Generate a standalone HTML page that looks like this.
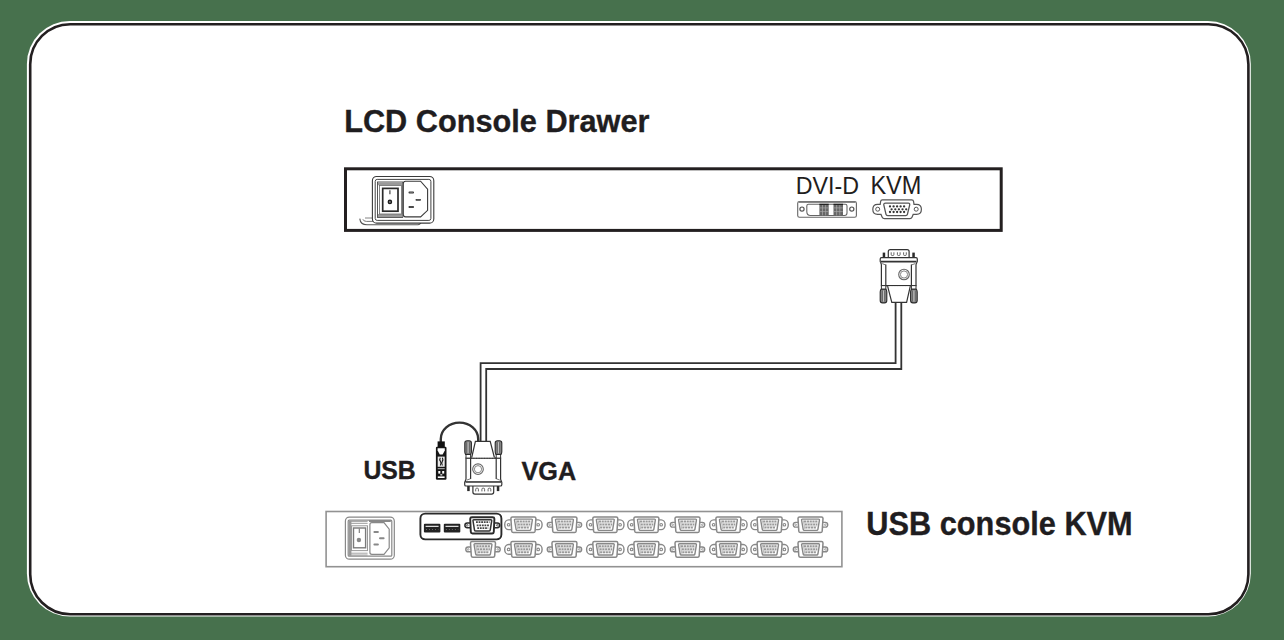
<!DOCTYPE html>
<html><head><meta charset="utf-8">
<style>
html,body{margin:0;padding:0;background:#47714d;width:1284px;height:640px;overflow:hidden}
svg{position:absolute;left:0;top:0;display:block}
text{font-family:"Liberation Sans",sans-serif;fill:#1f1d20}
.b{font-weight:bold;stroke:#1f1d20;stroke-width:0.35px}
</style></head><body>
<svg width="1284" height="640" viewBox="0 0 1284 640">
<defs>
<!-- VGA female port body (no lobes), centred at 0,0 -->
<g id="vbody">
  <path d="M-11 -7.85 H11 Q12.4 -7.85 12.5 -6.4 L11.7 6.4 Q11.5 7.85 10.1 7.85 H-10.1 Q-11.5 7.85 -11.7 6.4 L-12.5 -6.4 Q-12.4 -7.85 -11 -7.85 Z" fill="#fff" stroke="#888" stroke-width="1.5"/>
  <path d="M-8 -5.6 H8.1 Q9.1 -5.6 8.9 -4.5 L7.4 4.6 Q7.2 5.6 6.2 5.6 H-6.1 Q-7.1 5.6 -7.3 4.6 L-8.9 -4.5 Q-9.1 -5.6 -8 -5.6 Z" fill="#fff" stroke="#888" stroke-width="1.4"/>
  <path d="M-7.2 -4.4 L-5.7 4.4" stroke="#aaa" stroke-width="0.8"/>
  <path d="M-6.5 -3.2 H7.4 M-5.8 -0.2 H6.9 M-5.2 2.8 H6" stroke="#999" stroke-width="2" stroke-dasharray="2.2 0.6"/>
  <path d="M-6.5 -1.7 H7.2 M-5.6 1.3 H6.6" stroke="#c4c4c4" stroke-width="0.7"/>
</g>
<g id="vlobeA">
  <path d="M-12.3 -4.9 H-14.7 A4 4.9 0 0 0 -14.7 4.9 H-11.8 M12.3 -4.9 H14.7 A4 4.9 0 0 1 14.7 4.9 H11.8" fill="#fff" stroke="#888" stroke-width="1.4"/>
  <circle cx="-14.8" cy="0" r="1.3" fill="#fff" stroke="#888" stroke-width="1.1"/>
  <circle cx="14.8" cy="0" r="1.3" fill="#fff" stroke="#888" stroke-width="1.1"/>
</g>
<g id="vlobeB">
  <path d="M-12.3 -2.4 H-14.8 A2.4 2.4 0 0 0 -14.8 2.4 H-12 M12.3 -2.4 H14.8 A2.4 2.4 0 0 1 14.8 2.4 H12" fill="#fff" stroke="#888" stroke-width="1.4"/>
  <circle cx="-14.8" cy="0" r="0.8" fill="#fff" stroke="#999" stroke-width="0.9"/>
  <circle cx="14.8" cy="0" r="0.8" fill="#fff" stroke="#999" stroke-width="0.9"/>
</g>
<g id="vportA"><use href="#vlobeA"/><use href="#vbody"/></g>
<g id="vportB"><use href="#vlobeB"/><use href="#vbody"/></g>
<!-- VGA plug (cable end), drawn as the upper one -->
<g id="plug">
  <!-- D shell -->
  <path d="M888.3 257.7 V251.6 Q888.3 249.6 890.3 249.6 H907.1 Q909.1 249.6 909.1 251.6 V257.7" fill="#fff" stroke="#333" stroke-width="1.2"/>
  <path d="M891.2 252.3 v2.2 q0 1 1 1 h0.7 q1 0 1 -1 v-2.2 M897.4 252.3 v2.2 q0 1 1 1 h0.7 q1 0 1 -1 v-2.2 M903.6 252.3 v2.2 q0 1 1 1 h0.7 q1 0 1 -1 v-2.2" fill="none" stroke="#555" stroke-width="0.9"/>
  <!-- screws -->
  <rect x="882.7" y="252.6" width="2.5" height="5.1" fill="#2a2a2a"/>
  <rect x="912.3" y="252.6" width="2.5" height="5.1" fill="#2a2a2a"/>
  <!-- flange -->
  <path d="M881.5 257.7 H916 Q917.3 257.7 917.3 259 V261.5 Q917.3 262.6 916 262.6 H881.5 Q880.2 262.6 880.2 261.5 V259 Q880.2 257.7 881.5 257.7 Z" fill="#fff" stroke="#333" stroke-width="1.2"/>
  <path d="M881 261.4 H916.5" stroke="#333" stroke-width="1.1"/>
  <!-- body -->
  <path d="M880.6 262.6 Q881.4 263.6 881.4 265 V285.6 H916 V265 Q916 263.6 916.9 262.6" fill="#fff" stroke="#333" stroke-width="1.2"/>
  <path d="M885.8 264.6 V285.6 M911.4 264.6 V285.6" fill="none" stroke="#333" stroke-width="1.2"/>
  <path d="M882.2 263.6 L885.8 265 M915.2 263.6 L911.4 265" stroke="#555" stroke-width="0.8"/>
  <circle cx="904" cy="274.5" r="5.3" fill="none" stroke="#666" stroke-width="1.1"/>
  <circle cx="904" cy="274.5" r="3.6" fill="none" stroke="#777" stroke-width="0.9"/>
  <path d="M885.8 285.6 H911.4" stroke="#333" stroke-width="1.3" stroke-dasharray="1 0.6"/>
  <!-- boot -->
  <path d="M887.6 286.2 L891.8 302.4 H906.6 L910.3 286.2" fill="#fff" stroke="#333" stroke-width="1.2"/>
  <!-- thumb screws -->
  <rect x="881.4" y="285.6" width="4.4" height="3.6" fill="#fff" stroke="#333" stroke-width="1"/>
  <rect x="911.4" y="285.6" width="4.6" height="3.6" fill="#fff" stroke="#333" stroke-width="1"/>
  <path d="M881 289.3 H886 Q886.8 290.5 886.8 292 V300.6 Q886.8 302.9 884.5 302.9 H882.5 Q880.2 302.9 880.2 300.6 V292 Q880.2 290.5 881 289.3 Z" fill="#8c8c8c" stroke="#2a2a2a" stroke-width="1.1"/>
  <path d="M911.4 289.3 H916.4 Q917.2 290.5 917.2 292 V300.6 Q917.2 302.9 914.9 302.9 H912.9 Q910.6 302.9 910.6 300.6 V292 Q910.6 290.5 911.4 289.3 Z" fill="#8c8c8c" stroke="#2a2a2a" stroke-width="1.1"/>
  <path d="M882.3 290.5 V301.5 M884.8 290.5 V301.5 M912.7 290.5 V301.5 M915.2 290.5 V301.5" stroke="#555" stroke-width="0.8"/>
  <path d="M883.5 290.5 V301.5 M913.9 290.5 V301.5" stroke="#c8c8c8" stroke-width="0.9"/>
</g>
</defs>

<!-- outer frame -->
<rect x="26.9" y="20.9" width="1223.9" height="595.7" rx="43" fill="#fff"/>
<rect x="30.2" y="24.2" width="1218.2" height="590" rx="40" fill="#fff" stroke="#231f20" stroke-width="2.6"/>

<!-- titles -->
<text class="b" font-size="30.71" transform="translate(344.2 132.4) scale(1 1.048)">LCD Console Drawer</text>
<text class="b" font-size="30.73" transform="translate(866.36 534.5) scale(1 1.057)">USB console KVM</text>
<text class="b" font-size="24.79" transform="translate(363.41 479.4) scale(1 1.058)">USB</text>
<text class="b" font-size="25.21" transform="translate(521.55 479.5) scale(1 1.046)">VGA</text>
<text font-size="23.24" transform="translate(795.84 193.5) scale(1 1.054)">DVI-D</text>
<text font-size="23.54" transform="translate(870.42 193.5) scale(1 1.065)">KVM</text>

<!-- LCD drawer box -->
<rect x="345.5" y="168.8" width="655.7" height="61.6" fill="none" stroke="#231f20" stroke-width="3"/>

<!-- cable -->
<path d="M895.6 302 V363.2 H480.6 V441.8" fill="none" stroke="#333" stroke-width="1.8"/>
<path d="M901.3 302 V369 H486.2 V441.8" fill="none" stroke="#333" stroke-width="1.8"/>
<!-- USB cable arc -->
<path d="M440.8 442 V439 A18.7 16.4 0 0 1 478.2 439 V441" fill="none" stroke="#333" stroke-width="2.4"/>

<!-- plugs -->
<use href="#plug"/>
<use href="#plug" transform="translate(1382 743.7) scale(-1 -1)"/>

<!-- LCD power module -->
<g fill="none" stroke="#555" stroke-width="1">
  <path d="M359.8 218.6 Q360.4 224.8 367 224.8 H417.7 Q421 224.6 421.2 220.5" stroke="#555" stroke-width="1.1"/>
  <path d="M362.9 219.3 Q363.6 221.4 366.5 221.4 H420.8" stroke="#666" stroke-width="0.9"/>
  <path d="M365 218 H372.5" stroke="#777" stroke-width="0.9"/>
  <rect x="372.4" y="176.5" width="61.4" height="46.6" rx="4.2" fill="#fff" stroke="#3a3a3a" stroke-width="1.1"/>
  <rect x="375.2" y="179.4" width="55.7" height="41" rx="2" fill="#fff" stroke="#444" stroke-width="1"/>
  <rect x="377.5" y="182" width="25.2" height="35.4" fill="#fff" stroke="#444" stroke-width="0.9"/>
  <rect x="378" y="182.4" width="24.4" height="2.8" fill="#999" stroke="none"/>
  <rect x="378" y="214" width="24.4" height="3" fill="#999" stroke="none"/>
  <rect x="379.4" y="185.4" width="22" height="28.6" fill="#fff" stroke="#666" stroke-width="0.8"/>
  <rect x="382.7" y="188.4" width="15.3" height="22.8" fill="#fff" stroke="#2a2a2a" stroke-width="1.7"/>
  <path d="M389.9 190.3 V194.3" stroke="#555" stroke-width="1.3"/>
  <circle cx="389.9" cy="201.9" r="1.6" fill="#888" stroke="#1a1a1a" stroke-width="1.4"/>
  <path d="M405.6 181.2 H420.6 L427.6 189.2 V210.3 L420.6 216.9 H405.6 Q403.3 216.9 403.3 214.6 V183.5 Q403.3 181.2 405.6 181.2 Z" fill="#fff" stroke="#3a3a3a" stroke-width="1.1"/>
  <path d="M409.4 192.5 H413.1 M416.4 199.8 H420.1 M409.4 207 H413.1" stroke="#333" stroke-width="1.8" stroke-linecap="round"/>
  <path d="M409.6 192.5 H412.9 M416.6 199.8 H419.9 M409.6 207 H412.9" stroke="#888" stroke-width="0.6"/>
</g>

<!-- DVI connector -->
<g fill="none" stroke="#666" stroke-width="1.1">
  <rect x="797.7" y="201.5" width="58.7" height="15.8" rx="1.8" fill="#fff"/>
  <path d="M798.5 202.2 H855.6" stroke="#888" stroke-width="1.6"/>
  <path d="M808.5 204.3 H845.3 Q847 204.3 847 206 V213 Q847 215.5 844.5 215.5 H810.5 Q806.8 215.5 806.8 211.5 V206 Q806.8 204.3 808.5 204.3 Z" fill="#fff"/>
  <circle cx="802" cy="209.1" r="2.1" stroke="#555" stroke-width="1.2"/>
  <circle cx="851.8" cy="209.1" r="2.1" stroke="#555" stroke-width="1.2"/>
  <rect x="819.4" y="204.3" width="9.3" height="11.2" fill="#666" stroke="none"/>
  <rect x="833.5" y="204.3" width="9.5" height="11.2" fill="#666" stroke="none"/>
  <path d="M822.5 204.5 V215.3 M825.6 204.5 V215.3 M836.6 204.5 V215.3 M839.8 204.5 V215.3 M819.6 207.9 H828.5 M819.6 211.6 H828.5 M833.7 207.9 H842.8 M833.7 211.6 H842.8" stroke="#aaa" stroke-width="0.7"/>
  <path d="M819.4 204.4 H828.7 M833.5 204.4 H843" stroke="#222" stroke-width="1.2"/>
</g>

<!-- VGA connector on drawer -->
<g fill="none" stroke="#555" stroke-width="1.2">
  <path d="M882.4 199.9 H911.6 Q913.4 199.9 913.6 201.6 L914 204.3 H916.5 Q921.4 204.3 921.4 209.3 Q921.4 214.4 916.5 214.4 H913.2 L912 217.2 Q911.4 218.6 909.8 218.6 H884.4 Q882.8 218.6 882.2 217.2 L881 214.4 H877.6 Q872.8 214.4 872.8 209.3 Q872.8 204.3 877.6 204.3 H880.2 L880.6 201.6 Q880.8 199.9 882.4 199.9 Z" fill="#fff"/>
  <path d="M885.5 203.2 H908.4 Q910 203.2 909.7 204.8 L907.4 214.3 Q907.1 215.6 905.6 215.6 H887.8 Q886.3 215.6 886 214.3 L883.8 204.8 Q883.5 203.2 885.5 203.2 Z" fill="#fff" stroke-width="1.3"/>
  <circle cx="877.7" cy="209.2" r="2" stroke-width="1"/>
  <circle cx="916.2" cy="209.2" r="2" stroke-width="1"/>
  <g fill="#333" stroke="none">
    <circle cx="890" cy="206.4" r="1.15"/><circle cx="893.6" cy="206.4" r="1.15"/><circle cx="897.1" cy="206.4" r="1.15"/><circle cx="900.6" cy="206.4" r="1.15"/><circle cx="904.1" cy="206.4" r="1.15"/>
    <circle cx="891.6" cy="209.3" r="1.15"/><circle cx="895.3" cy="209.3" r="1.15"/><circle cx="898.9" cy="209.3" r="1.15"/><circle cx="902.5" cy="209.3" r="1.15"/><circle cx="906.2" cy="209.3" r="1.15"/>
    <circle cx="890" cy="212" r="1.15"/><circle cx="893.6" cy="212" r="1.15"/><circle cx="897.1" cy="212" r="1.15"/><circle cx="900.6" cy="212" r="1.15"/><circle cx="904.1" cy="212" r="1.15"/>
  </g>
</g>

<!-- USB plug -->
<g>
  <rect x="437.6" y="441.4" width="7.2" height="5.8" fill="#111"/>
  <rect x="435.9" y="446.8" width="10.6" height="32.9" rx="1.2" fill="#161616"/>
  <path d="M437.6 448.3 H444.8 V450.5 L442.6 454.4 H439.8 L437.6 450.5 Z" fill="#fff"/>
  <rect x="437.7" y="456.6" width="7" height="10.2" fill="#e8e8e8"/>
  <path d="M440.3 457.8 Q439.2 459.5 440.4 461.2 Q441.6 463 440.4 465.6 M442.4 457.8 Q443.4 459.6 442.2 461.6 Q441.2 463.4 442.4 465.6" fill="none" stroke="#1a1a1a" stroke-width="1.1"/>
  <rect x="437.7" y="468.1" width="7" height="1.1" fill="#aaa"/>
  <rect x="438.3" y="471" width="2" height="2.6" fill="#fff"/>
  <rect x="442.2" y="471" width="2" height="2.6" fill="#fff"/>
  <rect x="440.3" y="474" width="2" height="1.6" fill="#bbb"/>
  <rect x="437.8" y="476.4" width="6.8" height="1.6" fill="#fff"/>
</g>

<!-- KVM box -->
<rect x="326.1" y="511.5" width="515.8" height="55.2" fill="none" stroke="#929292" stroke-width="1.6"/>

<!-- KVM power module -->
<g fill="none" stroke="#888" stroke-width="1.2">
  <rect x="345.4" y="517.1" width="48.9" height="42.1" rx="4" fill="#fff"/>
  <rect x="348.2" y="520.2" width="43.6" height="36" rx="1" fill="#fff"/>
  <rect x="348.8" y="520.8" width="2.6" height="35" fill="#999" stroke="none"/>
  <path d="M349 521.6 H367.6 M349 523.4 H367.6 M349 553.2 H367.6 M349 555 H367.6" stroke="#999" stroke-width="0.9"/>
  <path d="M369 521 H390.8" stroke="#888" stroke-width="2"/>
  <rect x="351.5" y="525.8" width="16" height="24.8" fill="#fff" stroke="#999" stroke-width="1"/>
  <rect x="353.5" y="528" width="12.1" height="19.8" fill="#fff" stroke="#7a7a7a" stroke-width="1.4"/>
  <path d="M359.3 528.5 V533" stroke="#777" stroke-width="1.1"/>
  <circle cx="358.9" cy="540" r="2.2" fill="#888" stroke="none"/>
  <path d="M371.8 522.7 H384 L389.2 529.1 V547.8 L384 554.3 H371.8 Q369.9 554.3 369.9 552.3 V524.7 Q369.9 522.7 371.8 522.7 Z" fill="#fff" stroke="#888" stroke-width="1.2"/>
  <path d="M374.4 531.9 H377.9 M380 538.2 H383.6 M374.4 544.5 H377.9" stroke="#888" stroke-width="2" stroke-linecap="round"/>
</g>

<!-- control group -->
<rect x="420.4" y="513.6" width="81" height="25.8" rx="4.8" fill="#fff" stroke="#2a2a2a" stroke-width="1.9"/>
<g>
  <rect x="423.9" y="523.8" width="16.5" height="8.6" rx="1" fill="#222"/>
  <rect x="443.8" y="523.8" width="16.5" height="8.6" rx="1" fill="#222"/>
  <path d="M425.6 526.4 H438.6 M445.5 526.4 H458.5" stroke="#ddd" stroke-width="1.1"/>
  <path d="M426 529.5 H438.4 M445.9 529.5 H458.3" stroke="#777" stroke-width="0.8" stroke-dasharray="1 2"/>
</g>
<g transform="translate(482.3 525.3)">
  <path d="M-12.2 -2.4 H-15 A2.4 2.4 0 0 0 -15 2.4 H-12 M12.2 -2.4 H15 A2.4 2.4 0 0 1 15 2.4 H12" fill="#fff" stroke="#2a2a2a" stroke-width="1.5"/>
  <circle cx="-15" cy="0" r="0.8" fill="#fff" stroke="#444" stroke-width="0.8"/>
  <circle cx="15" cy="0" r="0.8" fill="#fff" stroke="#444" stroke-width="0.8"/>
  <path d="M-10.4 -8.1 H10.4 Q12 -8.1 12.1 -6.5 L11.5 6.6 Q11.4 8.2 9.8 8.2 H-9.8 Q-11.4 8.2 -11.5 6.6 L-12.1 -6.5 Q-12 -8.1 -10.4 -8.1 Z" fill="#fff" stroke="#2a2a2a" stroke-width="1.9"/>
  <path d="M-8.4 -5.5 H8.5 Q9.6 -5.5 9.4 -4.4 L7.9 4.8 Q7.7 5.8 6.6 5.8 H-6.5 Q-7.6 5.8 -7.8 4.8 L-9.3 -4.4 Q-9.5 -5.5 -8.4 -5.5 Z" fill="#fff" stroke="#333" stroke-width="1.5"/>
  <path d="M-6.3 -3.1 H7.2 M-5.6 0 H6.7 M-5 2.9 H5.9" stroke="#444" stroke-width="1.8" stroke-dasharray="1.8 0.8"/>
</g>

<!-- VGA port grid -->
<use href="#vportB" x="483" y="549.4"/>
<use href="#vportA" x="523.4" y="524.75"/><use href="#vportA" x="523.4" y="549.4"/>
<use href="#vportB" x="564.45" y="524.75"/><use href="#vportB" x="564.45" y="549.4"/>
<use href="#vportA" x="605.3" y="524.75"/><use href="#vportA" x="605.3" y="549.4"/>
<use href="#vportA" x="646.4" y="524.75"/><use href="#vportA" x="646.4" y="549.4"/>
<use href="#vportB" x="687.5" y="524.75"/><use href="#vportB" x="687.5" y="549.4"/>
<use href="#vportA" x="728.4" y="524.75"/><use href="#vportA" x="728.4" y="549.4"/>
<use href="#vportA" x="769.6" y="524.75"/><use href="#vportA" x="769.6" y="549.4"/>
<use href="#vportB" x="810.5" y="524.75"/><use href="#vportB" x="810.5" y="549.4"/>
</svg>
</body></html>
